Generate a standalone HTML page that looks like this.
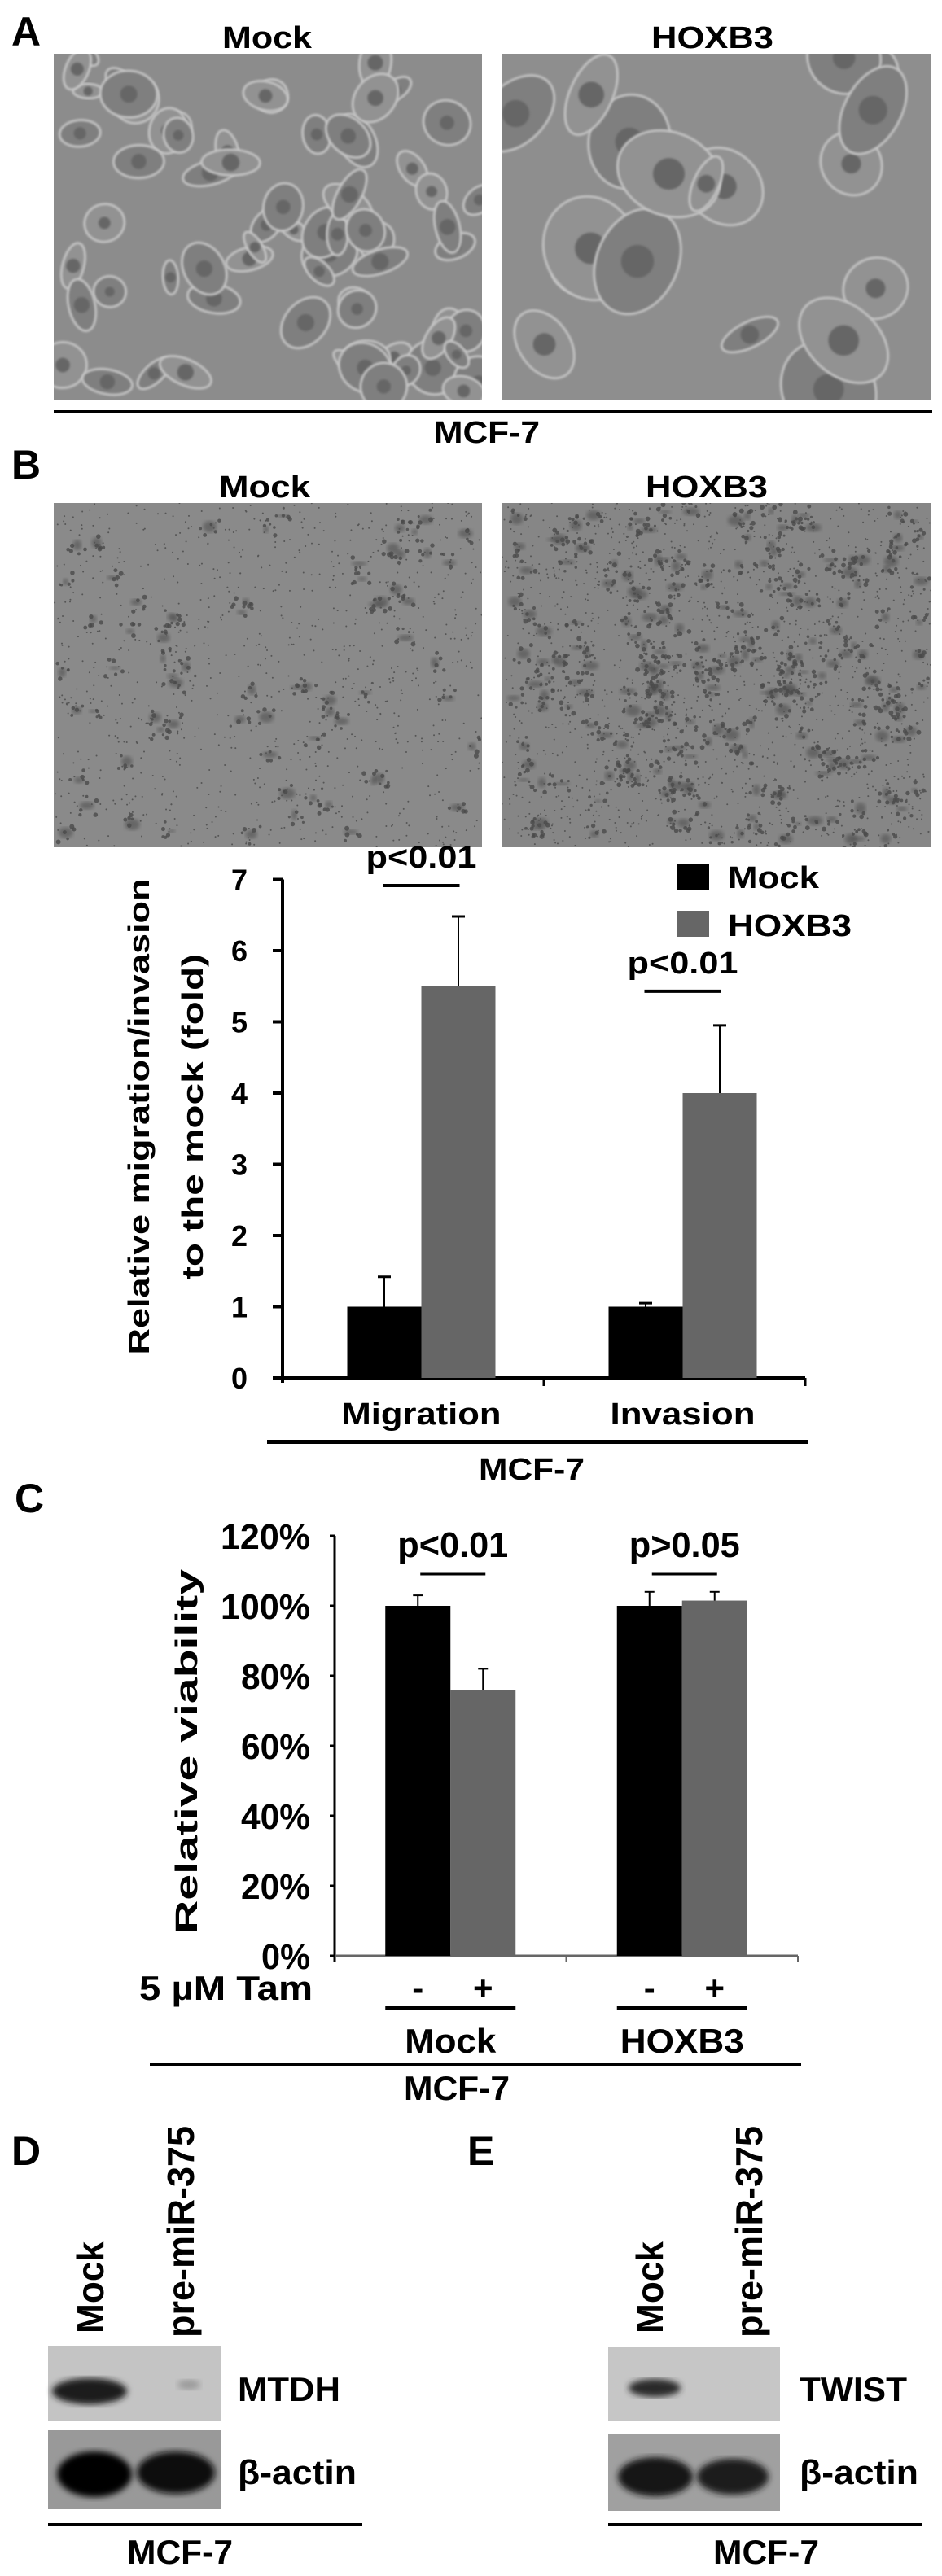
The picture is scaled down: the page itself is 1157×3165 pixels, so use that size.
<!DOCTYPE html>
<html><head><meta charset="utf-8"><style>
html,body{margin:0;padding:0;background:#fff;}
svg{display:block;}
text{font-family:"Liberation Sans",sans-serif;font-weight:bold;fill:#000;}
</style></head><body>
<svg id="fig" width="1157" height="3165" viewBox="0 0 1157 3165" xmlns="http://www.w3.org/2000/svg">
<defs>
<filter id="blur1"><feGaussianBlur stdDeviation="1.2"/></filter>
<filter id="blur2"><feGaussianBlur stdDeviation="2.5"/></filter>
<filter id="blur3"><feGaussianBlur stdDeviation="4"/></filter>
</defs>
<!-- Panel A -->
<text x="14" y="56" font-size="50">A</text>
<text x="328" y="59" font-size="38" text-anchor="middle" textLength="110" lengthAdjust="spacingAndGlyphs">Mock</text>
<text x="875" y="59" font-size="38" text-anchor="middle" textLength="150" lengthAdjust="spacingAndGlyphs">HOXB3</text>
<g id="imgA1"><rect x="66" y="66" width="526" height="425" fill="#8c8c8c"/></g>
<g id="imgA2"><rect x="616" y="66" width="528" height="425" fill="#8e8e8e"/></g>
<rect x="66" y="504" width="1079" height="4" fill="#000"/>
<text x="598" y="544" font-size="38" text-anchor="middle" textLength="130" lengthAdjust="spacingAndGlyphs">MCF-7</text>
<!-- Panel B -->
<text x="14" y="588" font-size="50">B</text>
<text x="325" y="611" font-size="38" text-anchor="middle" textLength="112" lengthAdjust="spacingAndGlyphs">Mock</text>
<text x="868" y="611" font-size="38" text-anchor="middle" textLength="150" lengthAdjust="spacingAndGlyphs">HOXB3</text>
<g id="imgB1"><rect x="66" y="618" width="526" height="423" fill="#8a8a8a"/></g>
<g id="imgB2"><rect x="616" y="618" width="528" height="423" fill="#868686"/></g>
<g id="chartB"></g>
<!-- Panel C -->
<text x="18" y="1858" font-size="50">C</text>
<g id="chartC"></g>
<!-- Panel D -->
<text x="14" y="2660" font-size="50">D</text>
<text font-size="46" transform="translate(127,2867) rotate(-90)" textLength="113" lengthAdjust="spacingAndGlyphs">Mock</text>
<text font-size="46" transform="translate(238,2872) rotate(-90)" textLength="260" lengthAdjust="spacingAndGlyphs">pre-miR-375</text>
<rect x="59" y="2883" width="212" height="91" fill="#c4c4c4"/>
<ellipse cx="110" cy="2938" rx="46" ry="16" fill="#1a1a1a" filter="url(#blur3)"/>
<ellipse cx="232" cy="2930" rx="14" ry="6" fill="#9a9a9a" filter="url(#blur3)"/>
<rect x="59" y="2986" width="212" height="97" fill="#999"/>
<ellipse cx="116" cy="3040" rx="46" ry="28" fill="#050505" filter="url(#blur3)"/>
<ellipse cx="216" cy="3038" rx="48" ry="26" fill="#080808" filter="url(#blur3)"/>
<text x="292" y="2950" font-size="42" textLength="126" lengthAdjust="spacingAndGlyphs">MTDH</text>
<text x="292" y="3052" font-size="42" textLength="146" lengthAdjust="spacingAndGlyphs">β-actin</text>
<rect x="59" y="3100" width="386" height="4" fill="#000"/>
<text x="221" y="3150" font-size="42" text-anchor="middle" textLength="130" lengthAdjust="spacingAndGlyphs">MCF-7</text>
<!-- Panel E -->
<text x="574" y="2660" font-size="50">E</text>
<text font-size="46" transform="translate(814,2867) rotate(-90)" textLength="113" lengthAdjust="spacingAndGlyphs">Mock</text>
<text font-size="46" transform="translate(936,2872) rotate(-90)" textLength="260" lengthAdjust="spacingAndGlyphs">pre-miR-375</text>
<rect x="747" y="2884" width="211" height="91" fill="#c6c6c6"/>
<ellipse cx="804" cy="2934" rx="32" ry="11" fill="#2a2a2a" filter="url(#blur3)"/>
<rect x="747" y="2991" width="211" height="94" fill="#a0a0a0"/>
<ellipse cx="805" cy="3043" rx="46" ry="24" fill="#151515" filter="url(#blur3)"/>
<ellipse cx="900" cy="3043" rx="44" ry="22" fill="#1a1a1a" filter="url(#blur3)"/>
<text x="982" y="2950" font-size="42" textLength="132" lengthAdjust="spacingAndGlyphs">TWIST</text>
<text x="982" y="3052" font-size="42" textLength="146" lengthAdjust="spacingAndGlyphs">β-actin</text>
<rect x="747" y="3100" width="386" height="4" fill="#000"/>
<text x="941" y="3150" font-size="42" text-anchor="middle" textLength="130" lengthAdjust="spacingAndGlyphs">MCF-7</text>
</svg>
<script>
// ---- Chart B data ----
const bCategories = ["Migration", "Invasion"];
const bMock = [1.0, 1.0];
const bMockErr = [0.42, 0.05];
const bHoxb3 = [5.5, 4.0];
const bHoxb3Err = [0.98, 0.95];
const bTicks = [0, 1, 2, 3, 4, 5, 6, 7];
const bPLabels = ["p<0.01", "p<0.01"];
// ---- Chart C data ----
const cGroups = ["Mock", "HOXB3"];
const cMinus = [100, 100];
const cMinusErr = [3, 4];
const cPlus = [76, 101.5];
const cPlusErr = [6, 2.5];
const cTicks = [0, 20, 40, 60, 80, 100, 120];
const cPLabels = ["p<0.01", "p>0.05"];

const NS = "http://www.w3.org/2000/svg";
function mk(parent, tag, attrs, txt) {
  const e = document.createElementNS(NS, tag);
  for (const k in attrs) e.setAttribute(k, attrs[k]);
  if (txt !== undefined) e.textContent = txt;
  parent.appendChild(e);
  return e;
}

// --- Chart B ---
(function () {
  const g = document.getElementById("chartB");
  const x0 = 347, x1 = 989, y0 = 1693, unit = 87.5;
  const yB = v => y0 - v * unit;
  const groupW = (x1 - x0) / bCategories.length;
  const barW = 91;
  const groupC = i => x0 + groupW * (i + 0.5) + 10;
  let el = mk(g, "line", {x1: x0, y1: yB(7), x2: x0, y2: y0 + 6, stroke: "#000", "stroke-width": 4});
  
  
  el = mk(g, "line", {x1: x0 - 12, y1: y0, x2: x1, y2: y0, stroke: "#000", "stroke-width": 4});
  
  
  mk(g, "line", {x1: (x0 + x1) / 2, y1: y0, x2: (x0 + x1) / 2, y2: y0 + 10, stroke: "#000", "stroke-width": 3});
  mk(g, "line", {x1: x1, y1: y0, x2: x1, y2: y0 + 10, stroke: "#000", "stroke-width": 3});
  bTicks.forEach(t => {
    mk(g, "line", {x1: x0 - 12, y1: yB(t), x2: x0, y2: yB(t), stroke: "#000", "stroke-width": 4});
    const tl = mk(g, "text", {x: 304, y: yB(t) + 13, "font-size": 36, "text-anchor": "end"}, String(t));
    
    
  });
  bCategories.forEach((c, i) => {
    const cx = groupC(i);
    const m = mk(g, "rect", {x: cx - barW, y: yB(bMock[i]), width: barW, height: yB(0) - yB(bMock[i]), fill: "#000"});
    
    
    const h = mk(g, "rect", {x: cx, y: yB(bHoxb3[i]), width: barW, height: yB(0) - yB(bHoxb3[i]), fill: "#666"});
    
    
    const mx = cx - barW / 2, hx = cx + barW / 2;
    mk(g, "line", {x1: mx, y1: yB(bMock[i]), x2: mx, y2: yB(bMock[i] + bMockErr[i]), stroke: "#000", "stroke-width": 2});
    mk(g, "line", {x1: mx - 8, y1: yB(bMock[i] + bMockErr[i]), x2: mx + 8, y2: yB(bMock[i] + bMockErr[i]), stroke: "#000", "stroke-width": 3});
    mk(g, "line", {x1: hx, y1: yB(bHoxb3[i]), x2: hx, y2: yB(bHoxb3[i] + bHoxb3Err[i]), stroke: "#000", "stroke-width": 2});
    mk(g, "line", {x1: hx - 8, y1: yB(bHoxb3[i] + bHoxb3Err[i]), x2: hx + 8, y2: yB(bHoxb3[i] + bHoxb3Err[i]), stroke: "#000", "stroke-width": 3});
    const topY = yB(bHoxb3[i] + bHoxb3Err[i]);
    const ly = i === 0 ? topY - 38 : topY - 42;
    const pl = mk(g, "line", {x1: cx - 47, y1: ly, x2: cx + 47, y2: ly, stroke: "#000", "stroke-width": 4});
    
    
    const pt = mk(g, "text", {x: cx, y: ly - 22, "font-size": 38, "text-anchor": "middle", textLength: 136, lengthAdjust: "spacingAndGlyphs"}, bPLabels[i]);
    
    
    const xl = mk(g, "text", {x: cx, y: 1750, "font-size": 38, "text-anchor": "middle", textLength: i === 0 ? 196 : 178, lengthAdjust: "spacingAndGlyphs"}, c);
    
    
  });
  mk(g, "rect", {x: 328, y: 1769, width: 664, height: 5, fill: "#000"});
  let t = mk(g, "text", {x: 653, y: 1818, "font-size": 38, "text-anchor": "middle", textLength: 130, lengthAdjust: "spacingAndGlyphs"}, "MCF-7");
  
  
  t = mk(g, "text", {"font-size": 36, "text-anchor": "middle", transform: "translate(183,1372) rotate(-90)", textLength: 585, lengthAdjust: "spacingAndGlyphs"}, "Relative migration/invasion");
  
  
  t = mk(g, "text", {"font-size": 36, "text-anchor": "middle", transform: "translate(249,1372) rotate(-90)", textLength: 400, lengthAdjust: "spacingAndGlyphs"}, "to the mock (fold)");
  
  
  let r = mk(g, "rect", {x: 832, y: 1061, width: 39, height: 32, fill: "#000"});
  
  
  t = mk(g, "text", {x: 894, y: 1091, "font-size": 38, textLength: 112, lengthAdjust: "spacingAndGlyphs"}, "Mock");
  
  
  r = mk(g, "rect", {x: 832, y: 1119, width: 39, height: 32, fill: "#666"});
  
  
  t = mk(g, "text", {x: 894, y: 1150, "font-size": 38, textLength: 152, lengthAdjust: "spacingAndGlyphs"}, "HOXB3");
  
  
})();

// --- Chart C ---
(function () {
  const g = document.getElementById("chartC");
  const x0 = 411, x1 = 980, y0 = 2403, perPct = 4.3;
  const yC = v => y0 - v * perPct;
  const groupW = (x1 - x0) / cGroups.length;
  const barW = 80;
  const groupC = i => x0 + groupW * (i + 0.5);
  let el = mk(g, "line", {x1: x0, y1: yC(120), x2: x0, y2: y0 + 8, stroke: "#000", "stroke-width": 3});
  
  
  el = mk(g, "line", {x1: x0 - 6, y1: y0, x2: x1, y2: y0, stroke: "#666", "stroke-width": 3});
  
  
  mk(g, "line", {x1: (x0 + x1) / 2, y1: y0, x2: (x0 + x1) / 2, y2: y0 + 8, stroke: "#666", "stroke-width": 2});
  mk(g, "line", {x1: x1, y1: y0, x2: x1, y2: y0 + 8, stroke: "#666", "stroke-width": 2});
  cTicks.forEach(t => {
    mk(g, "line", {x1: x0 - 6, y1: yC(t), x2: x0, y2: yC(t), stroke: "#000", "stroke-width": 3});
    const tl = mk(g, "text", {x: 381, y: yC(t) + 16, "font-size": 44, "text-anchor": "end", textLength: String(t).length * 25 + 35, lengthAdjust: "spacingAndGlyphs"}, t + "%");
    
    
  });
  cGroups.forEach((c, i) => {
    const cx = groupC(i);
    const m = mk(g, "rect", {x: cx - barW, y: yC(cMinus[i]), width: barW, height: yC(0) - yC(cMinus[i]), fill: "#000"});
    
    
    const p = mk(g, "rect", {x: cx, y: yC(cPlus[i]), width: barW, height: yC(0) - yC(cPlus[i]), fill: "#666"});
    
    
    const mx = cx - barW / 2, px = cx + barW / 2;
    mk(g, "line", {x1: mx, y1: yC(cMinus[i]), x2: mx, y2: yC(cMinus[i] + cMinusErr[i]), stroke: "#000", "stroke-width": 2});
    mk(g, "line", {x1: mx - 6, y1: yC(cMinus[i] + cMinusErr[i]), x2: mx + 6, y2: yC(cMinus[i] + cMinusErr[i]), stroke: "#000", "stroke-width": 2});
    mk(g, "line", {x1: px, y1: yC(cPlus[i]), x2: px, y2: yC(cPlus[i] + cPlusErr[i]), stroke: "#000", "stroke-width": 2});
    mk(g, "line", {x1: px - 6, y1: yC(cPlus[i] + cPlusErr[i]), x2: px + 6, y2: yC(cPlus[i] + cPlusErr[i]), stroke: "#000", "stroke-width": 2});
    const pl = mk(g, "line", {x1: cx - 37, y1: 1934, x2: cx + 43, y2: 1934, stroke: "#000", "stroke-width": 3});
    
    
    const pt = mk(g, "text", {x: cx + 3, y: 1913, "font-size": 44, "text-anchor": "middle", textLength: 136, lengthAdjust: "spacingAndGlyphs"}, cPLabels[i]);
    
    
    let s = mk(g, "text", {x: mx, y: 2457, "font-size": 42, "text-anchor": "middle"}, "-");
    
    
    s = mk(g, "text", {x: px, y: 2457, "font-size": 42, "text-anchor": "middle"}, "+");
    
    
    mk(g, "rect", {x: cx - barW, y: 2465, width: barW * 2, height: 4, fill: "#000"});
    const gl = mk(g, "text", {x: cx, y: 2522, "font-size": 42, "text-anchor": "middle", textLength: i === 0 ? 112 : 152, lengthAdjust: "spacingAndGlyphs"}, c);
    
    
  });
  let t = mk(g, "text", {x: 171, y: 2457, "font-size": 42, textLength: 213, lengthAdjust: "spacingAndGlyphs"}, "5 µM  Tam");
  
  
  mk(g, "rect", {x: 184, y: 2535, width: 800, height: 4, fill: "#000"});
  t = mk(g, "text", {x: 561, y: 2580, "font-size": 42, "text-anchor": "middle", textLength: 130, lengthAdjust: "spacingAndGlyphs"}, "MCF-7");
  
  
  t = mk(g, "text", {"font-size": 38, "text-anchor": "middle", transform: "translate(242,2152) rotate(-90)", textLength: 448, lengthAdjust: "spacingAndGlyphs"}, "Relative viability");
  
  
})();

// --- Decorative microscopy textures (deterministic) ---
(function () {
  let seed = 7;
  const rnd = () => { seed = (seed * 16807) % 2147483647; return seed / 2147483647; };
  function cells(id, x, y, w, h, n, rMin, rMax) {
    const g = document.getElementById(id);
    for (let i = 0; i < n; i++) {
      const rx = rMin + rnd() * (rMax - rMin), ry = rx * (0.4 + rnd() * 0.6);
      const cx = x + rnd() * w, cy = y + rnd() * h;
      mk(g, "ellipse", {cx: cx, cy: cy, rx: rx, ry: ry, fill: rnd() > 0.5 ? "#7f7f7f" : "#929292", stroke: "#c8c8c8", "stroke-width": 2.5, transform: "rotate(" + (rnd() * 180) + " " + cx + " " + cy + ")", filter: "url(#blur1)"});
      mk(g, "circle", {cx: cx, cy: cy, r: rx * 0.3, fill: "#666", filter: "url(#blur1)"});
    }
  }
  function dots(id, x, y, w, h, n, blobs) {
    const g = document.getElementById(id);
    for (let i = 0; i < blobs; i++) {
      const cx = x + 10 + rnd() * (w - 20), cy = y + 10 + rnd() * (h - 20);
      mk(g, "ellipse", {cx: cx, cy: cy, rx: 3 + rnd() * 7, ry: 2 + rnd() * 5, fill: "#505050", opacity: 0.6, filter: "url(#blur2)"});
      for (let k = 0; k < 5; k++) {
        mk(g, "circle", {cx: cx + (rnd() - 0.5) * 24, cy: cy + (rnd() - 0.5) * 24, r: 1.5 + rnd() * 1.5, fill: "#4a4a4a", opacity: 0.8});
      }
    }
    for (let i = 0; i < n; i++) {
      mk(g, "circle", {cx: x + rnd() * w, cy: y + rnd() * h, r: 1, fill: "#555"});
    }
  }
  const defs = document.querySelector("defs");
  const clipA1 = mk(defs, "clipPath", {id: "cA1"}); mk(clipA1, "rect", {x: 66, y: 66, width: 526, height: 425});
  const clipA2 = mk(defs, "clipPath", {id: "cA2"}); mk(clipA2, "rect", {x: 616, y: 66, width: 528, height: 425});
  const clipB1 = mk(defs, "clipPath", {id: "cB1"}); mk(clipB1, "rect", {x: 66, y: 618, width: 526, height: 423});
  const clipB2 = mk(defs, "clipPath", {id: "cB2"}); mk(clipB2, "rect", {x: 616, y: 618, width: 528, height: 423});
  document.getElementById("imgA1").setAttribute("clip-path", "url(#cA1)");
  document.getElementById("imgA2").setAttribute("clip-path", "url(#cA2)");
  document.getElementById("imgB1").setAttribute("clip-path", "url(#cB1)");
  document.getElementById("imgB2").setAttribute("clip-path", "url(#cB2)");
  cells("imgA1", 66, 66, 526, 425, 70, 18, 36);
  cells("imgA2", 616, 66, 528, 425, 18, 30, 70);
  dots("imgB1", 66, 618, 526, 423, 900, 70);
  dots("imgB2", 616, 618, 528, 423, 1400, 220);
})();
</script>
</body></html>
